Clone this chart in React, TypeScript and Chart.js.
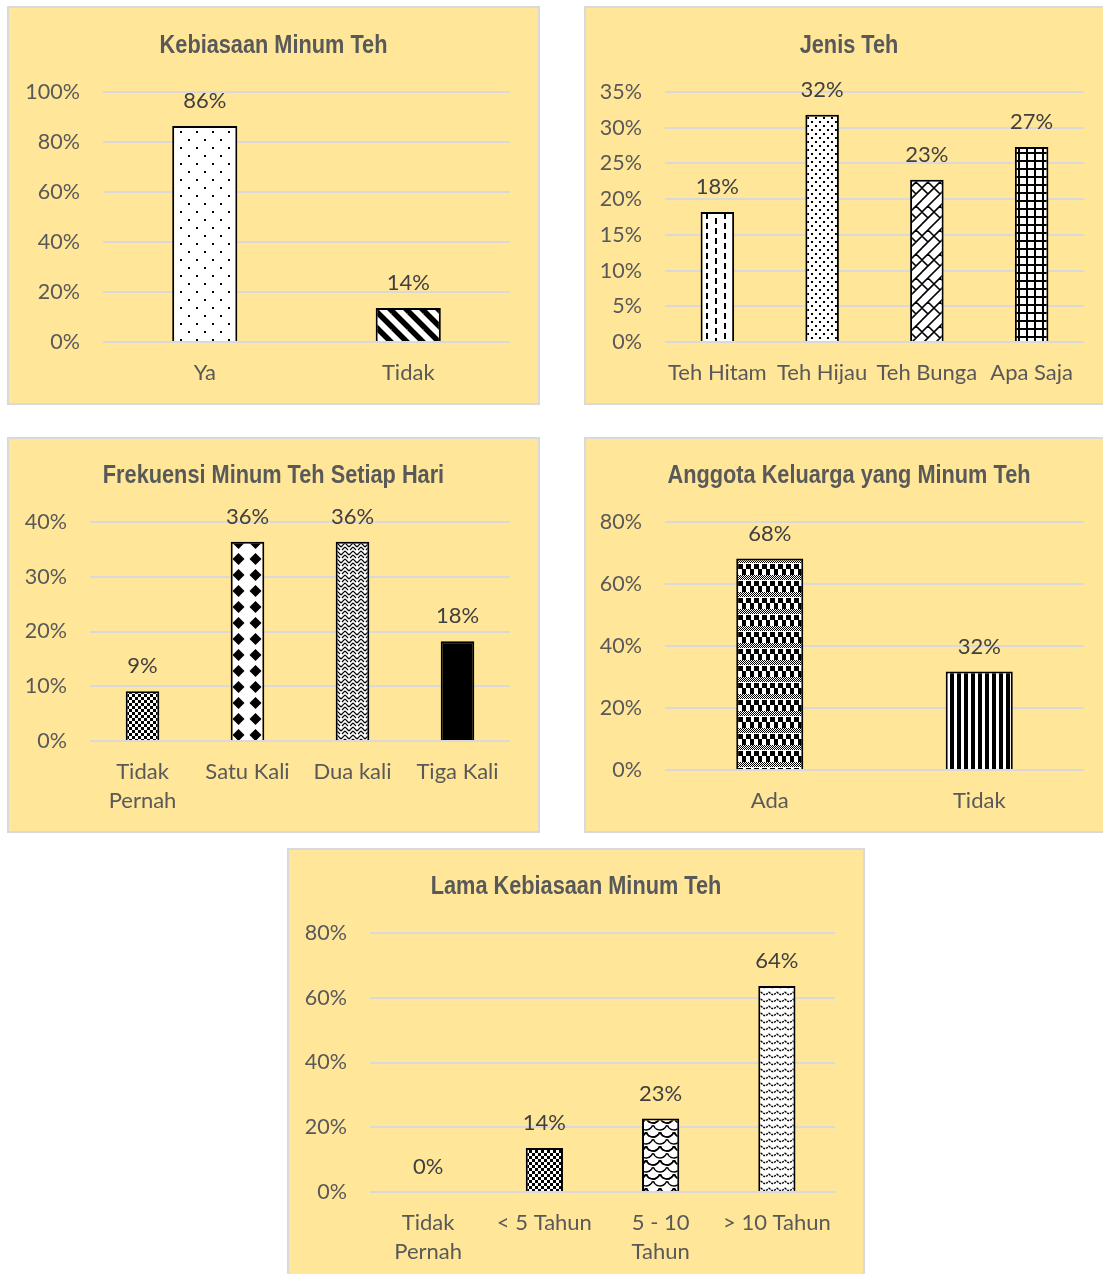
import React, { useEffect, useRef } from 'react';
import { Chart, registerables } from 'chart.js';

Chart.register(...registerables);

// ---------------- DATA ----------------
const kebiasaanLabels: (string | string[])[] = ['Ya', 'Tidak'];
const kebiasaanValues = [86.4, 13.6];

const jenisLabels: (string | string[])[] = ['Teh Hitam', 'Teh Hijau', 'Teh Bunga', 'Apa Saja'];
const jenisValues = [18.2, 31.8, 22.7, 27.3];

const frekuensiLabels: (string | string[])[] = [['Tidak', 'Pernah'], 'Satu Kali', 'Dua kali', 'Tiga Kali'];
const frekuensiValues = [9.1, 36.4, 36.4, 18.2];

const keluargaLabels: (string | string[])[] = ['Ada', 'Tidak'];
const keluargaValues = [68.2, 31.8];

const lamaLabels: (string | string[])[] = [['Tidak', 'Pernah'], '< 5 Tahun', ['5 - 10', 'Tahun'], '> 10 Tahun'];
const lamaValues = [0, 13.6, 22.7, 63.6];

// y tick ranges [max, step]
const kebiasaanTicks = [100, 20];
const jenisTicks = [35, 5];
const frekuensiTicks = [40, 10];
const keluargaTicks = [80, 20];
const lamaTicks = [80, 20];

// ---------------- PATTERNS ----------------
type Drawer = (x: CanvasRenderingContext2D, w: number, h: number) => void;

function tile(w: number, h: number, draw: Drawer, bg = '#ffffff'): CanvasPattern | string {
  const c = document.createElement('canvas');
  c.width = w;
  c.height = h;
  const x = c.getContext('2d');
  if (!x) return '#ffffff';
  x.fillStyle = bg;
  x.fillRect(0, 0, w, h);
  x.fillStyle = '#000';
  x.strokeStyle = '#000';
  draw(x, w, h);
  const p = x.createPattern(c, 'repeat');
  return p || '#ffffff';
}

function wrapLines(x: CanvasRenderingContext2D, w: number, h: number, segs: number[][]) {
  x.beginPath();
  for (const ox of [-w, 0, w]) {
    for (const oy of [-h, 0, h]) {
      for (const s of segs) {
        x.moveTo(s[0] + ox, s[1] + oy);
        x.lineTo(s[2] + ox, s[3] + oy);
      }
    }
  }
  x.stroke();
}

const patterns: Record<string, () => CanvasPattern | string> = {
  dotsSparse: () => tile(16, 16, (x) => { x.fillRect(3, 3, 2, 2); x.fillRect(11, 11, 2, 2); }),
  stripesDiag: () => tile(16, 16, (x, w, h) => { x.lineWidth = 5.5; wrapLines(x, w, h, [[0, 0, 16, 16]]); }),
  dashVert: () => tile(18, 10, (x) => { x.fillRect(3, 0, 2, 6); x.fillRect(12, 5, 2, 5); x.fillRect(12, 0, 2, 1); }),
  dotsDense: () => tile(8, 8, (x) => { x.fillRect(1, 1, 2, 2); x.fillRect(5, 5, 2, 2); }),
  brickDiag: () => tile(24, 24, (x, w, h) => {
    x.lineWidth = 1.6;
    wrapLines(x, w, h, [
      [0, 12, 12, 0], [0, 24, 24, 0], [12, 24, 24, 12],
      [6, 6, 12, 12], [18, 6, 24, 12], [0, 12, 6, 18], [12, 12, 18, 18],
    ]);
  }),
  grid: () => tile(8, 8, (x) => { x.fillRect(0, 0, 8, 2); x.fillRect(0, 0, 2, 8); }),
  checker: () => tile(6, 6, (x) => { x.fillRect(0, 0, 3, 3); x.fillRect(3, 3, 3, 3); }),
  diamonds: () => tile(17, 16, (x) => {
    x.beginPath();
    x.moveTo(8.5, 2); x.lineTo(14.5, 8); x.lineTo(8.5, 14); x.lineTo(2.5, 8); x.closePath();
    x.fill();
  }),
  weave: () => tile(8, 8, (x, w, h) => {
    x.lineWidth = 1.2;
    wrapLines(x, w, h, [[0, 0, 4, 4], [4, 4, 8, 0], [0, 4, 3, 7], [8, 4, 5, 7]]);
  }),
  solid: () => '#000000',
  plaid: () => tile(16, 17, (x) => {
    for (let i = 0; i < 16; i += 2) {
      for (let j = 0; j < 5; j++) x.fillRect(i + (j % 2), j, 1, 1);
    }
    x.fillRect(0, 6, 5, 5);
    x.fillRect(8, 6, 5, 5);
    x.fillRect(4, 11, 4, 6);
    x.fillRect(12, 11, 4, 6);
  }),
  stripesVert: () => tile(7, 4, (x) => { x.fillRect(0, 0, 4, 4); }),
  shingle: () => tile(14, 14, (x, w, h) => {
    x.lineWidth = 1.5;
    for (const ox of [-w, 0, w]) {
      for (const oy of [-h, 0, h]) {
        x.beginPath(); x.arc(7 + ox, 7 + oy, 7, Math.PI * 0.1, Math.PI * 0.9); x.stroke();
        x.beginPath(); x.arc(0 + ox, 14 + oy, 7, Math.PI * 0.1, Math.PI * 0.9); x.stroke();
        x.beginPath(); x.arc(14 + ox, 14 + oy, 7, Math.PI * 0.1, Math.PI * 0.9); x.stroke();
      }
    }
  }),
  wave: () => tile(8, 7, (x) => {
    x.lineWidth = 1.4;
    x.setLineDash([2, 1]);
    x.beginPath(); x.moveTo(0, 2); x.quadraticCurveTo(4, 7, 8, 2); x.stroke();
  }),
};

// ---------------- LAYOUT / STYLE ----------------
const TICK_FONT = 'Lato, "Open Sans", sans-serif';
const TITLE_FONT = '"Liberation Sans", Arial, sans-serif';

interface PanelSpec {
  title: string;
  labels: (string | string[])[];
  values: number[];
  ticks: number[];
  fills: string[];
  left: number; top: number; w: number; h: number;
  areaLeft: number; areaTop: number; padRight: number; xHeight: number;
  titleY: number;
}

const panels: PanelSpec[] = [
  {
    title: 'Kebiasaan Minum Teh', labels: kebiasaanLabels, values: kebiasaanValues, ticks: kebiasaanTicks,
    fills: ['dotsSparse', 'stripesDiag'],
    left: 7, top: 6, w: 533, h: 399, areaLeft: 94, areaTop: 84, padRight: 28, xHeight: 61, titleY: 38,
  },
  {
    title: 'Jenis Teh', labels: jenisLabels, values: jenisValues, ticks: jenisTicks,
    fills: ['dashVert', 'dotsDense', 'brickDiag', 'grid'],
    left: 584, top: 6, w: 530, h: 399, areaLeft: 79, areaTop: 84, padRight: 28, xHeight: 61, titleY: 38,
  },
  {
    title: 'Frekuensi Minum Teh Setiap Hari', labels: frekuensiLabels, values: frekuensiValues, ticks: frekuensiTicks,
    fills: ['checker', 'diamonds', 'weave', 'solid'],
    left: 7, top: 437, w: 533, h: 396, areaLeft: 81, areaTop: 83, padRight: 28, xHeight: 90, titleY: 37,
  },
  {
    title: 'Anggota Keluarga yang Minum Teh', labels: keluargaLabels, values: keluargaValues, ticks: keluargaTicks,
    fills: ['plaid', 'stripesVert'],
    left: 584, top: 437, w: 530, h: 396, areaLeft: 79, areaTop: 83, padRight: 28, xHeight: 61, titleY: 37,
  },
  {
    title: 'Lama Kebiasaan Minum Teh', labels: lamaLabels, values: lamaValues, ticks: lamaTicks,
    fills: ['checker', 'checker', 'shingle', 'wave'],
    left: 287, top: 848, w: 578, h: 432, areaLeft: 81, areaTop: 83, padRight: 28, xHeight: 86, titleY: 37,
  },
];

function Panel({ spec }: { spec: PanelSpec }) {
  const ref = useRef<HTMLCanvasElement | null>(null);
  const cw = spec.w - 4;
  const ch = spec.h - 4;

  useEffect(() => {
    const canvas = ref.current;
    if (!canvas) return;
    const bg = spec.fills.map((f) => patterns[f]());

    const titlePlugin = {
      id: 'panelTitle',
      afterDraw(chart: any) {
        const ctx = chart.ctx;
        ctx.save();
        ctx.font = `bold 26.5px ${TITLE_FONT}`;
        ctx.fillStyle = '#595959';
        ctx.textAlign = 'center';
        ctx.textBaseline = 'middle';
        ctx.translate(chart.width / 2, spec.titleY);
        ctx.scale(0.82, 1);
        ctx.fillText(spec.title, 0, 0);
        ctx.restore();
      },
    };

    const labelPlugin = {
      id: 'valueLabels',
      afterDatasetsDraw(chart: any) {
        const ctx = chart.ctx;
        const meta = chart.getDatasetMeta(0);
        ctx.save();
        ctx.font = `22px ${TICK_FONT}`;
        ctx.fillStyle = '#404040';
        ctx.textAlign = 'center';
        ctx.textBaseline = 'middle';
        meta.data.forEach((bar: any, i: number) => {
          ctx.fillText(Math.round(spec.values[i]) + '%', bar.x, bar.y - 25);
        });
        ctx.restore();
      },
    };

    const chart = new Chart(canvas, {
      type: 'bar',
      data: {
        labels: spec.labels as any,
        datasets: [
          {
            data: spec.values,
            backgroundColor: bg as any,
            borderColor: '#000000',
            borderWidth: 2,
            barPercentage: 0.32,
            categoryPercentage: 1,
          },
        ],
      },
      options: {
        animation: false,
        responsive: false,
        devicePixelRatio: 1,
        layout: { padding: { top: spec.areaTop, right: spec.padRight, left: 0, bottom: 0 } },
        plugins: { legend: { display: false }, tooltip: { enabled: false }, title: { display: false } },
        scales: {
          x: {
            grid: { display: false, drawTicks: false },
            border: { display: false },
            ticks: {
              color: '#595959',
              font: { family: TICK_FONT, size: 22, lineHeight: 1.33 },
              padding: 16,
              maxRotation: 0,
              autoSkip: false,
            },
            afterFit: (s: any) => { s.height = spec.xHeight; },
          },
          y: {
            min: 0,
            max: spec.ticks[0],
            grid: { color: '#d9d9d9', lineWidth: 2, drawTicks: false },
            border: { display: false },
            ticks: {
              stepSize: spec.ticks[1],
              color: '#595959',
              font: { family: TICK_FONT, size: 21.5 },
              padding: 23,
              callback: (v: any) => v + '%',
            },
            afterFit: (s: any) => { s.width = spec.areaLeft; },
          },
        },
      },
      plugins: [titlePlugin, labelPlugin],
    });
    return () => chart.destroy();
  }, [spec]);

  return (
    <div
      style={{
        position: 'absolute',
        left: spec.left,
        top: spec.top,
        width: spec.w,
        height: spec.h,
        boxSizing: 'border-box',
        border: '2px solid #d9d9d9',
        background: '#FFE699',
      }}
    >
      <canvas
        ref={ref}
        width={cw}
        height={ch}
        style={{ position: 'absolute', left: 0, top: 0, width: cw, height: ch }}
      />
    </div>
  );
}

export default function App() {
  return (
    <div
      style={{
        position: 'absolute',
        left: 0,
        top: 0,
        width: 1103,
        height: 1274,
        overflow: 'hidden',
        background: '#ffffff',
      }}
    >
      {panels.map((p, i) => (
        <Panel key={i} spec={p} />
      ))}
    </div>
  );
}
